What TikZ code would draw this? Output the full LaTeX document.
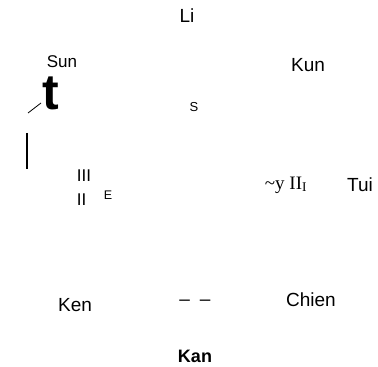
\documentclass[tikz,border=0pt]{standalone}
\usepackage{fontspec}
\setmainfont{Liberation Serif}
\setsansfont{Liberation Sans}
\usepackage{tikz}

\begin{document}
\begin{tikzpicture}[x=1pt, y=1pt,
    lbl/.style={font=\sffamily\fontsize{19}{22}\selectfont, inner sep=0pt},
    small/.style={font=\sffamily\fontsize{17}{20}\selectfont, inner sep=0pt}]
  \useasboundingbox (0,0) rectangle (378,367);
  \node[lbl] (li) at (187,351) {Li};
  \node[small] (sun) at (62,305) {Sun};
  \node[font=\sffamily\bfseries\fontsize{50}{54}\selectfont, inner sep=0pt] (t) at (51,274) {t};
  \draw[line width=0.8pt] (28,254) -- (41,264);
  \draw[line width=1.6pt] (27,234) -- (27,198);
  \node[small] (iii) at (84,191) {III};
  \node[small] (ii) at (81.5,167) {II};
  \node[font=\sffamily\fontsize{12.5}{14}\selectfont, inner sep=0pt] (e) at (108,172) {E};
  \node[font=\sffamily\fontsize{13}{15}\selectfont, inner sep=0pt] (s) at (194,260) {S};
  \node[lbl] (kun) at (308,302) {Kun};
  \node[font=\rmfamily\fontsize{19}{22}\selectfont, inner sep=0pt] (yii) at (286,182) {\textasciitilde y II\textsubscript{I}};
  \node[lbl] (tui) at (360,182) {Tui};
  \node[lbl] (ken) at (75,62) {Ken};
  \node[lbl] (dash) at (195,64) {--\hspace{10pt}--};
  \node[lbl] (chien) at (311,67) {Chien};
  \node[lbl, font=\sffamily\bfseries\fontsize{18}{21}\selectfont] (kan) at (195,11) {Kan};
\end{tikzpicture}
\end{document}
